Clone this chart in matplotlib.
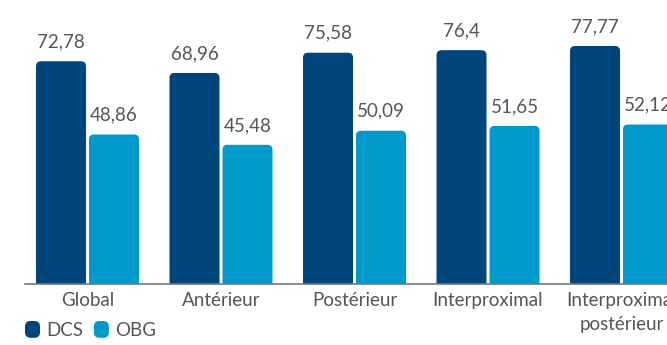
import matplotlib
matplotlib.use('Agg')
import matplotlib.pyplot as plt
from matplotlib.patches import FancyBboxPatch, Patch
from matplotlib.legend_handler import HandlerPatch

plt.rcParams['font.family'] = ['Lato', 'DejaVu Sans']

# Data
categories = ['Global', 'Antérieur', 'Postérieur', 'Interproximal', 'Interproximal\npostérieur']
dcs = [72.78, 68.96, 75.58, 76.4, 77.77]
obg = [48.86, 45.48, 50.09, 51.65, 52.12]
series_names = ['DCS', 'OBG']
colors = ['#00457c', '#0099cc']
text_color = '#555555'

W, H = 667, 345
fig = plt.figure(figsize=(W / 100, H / 100), dpi=100)
ax = fig.add_axes([25 / W, 61 / H, (W - 25) / W, 284 / H])

group_px = 133.5          # pixel distance between groups
bar_w = 50 / group_px
gap = 3 / group_px
x_left = -62.5 / group_px
x_right = x_left + (W - 25) / group_px
y_top = 92.8

ax.set_xlim(x_left, x_right)
ax.set_ylim(0, y_top)

# aspect between y and x data units per pixel, for round corners
aspect = (y_top / 284) / (1 / group_px)
radius = 5 / group_px


def rounded_bar(x, height, color):
    p = FancyBboxPatch((x, -5), bar_w, height + 5,
                       boxstyle=f"round,pad=0,rounding_size={radius}",
                       mutation_aspect=aspect, facecolor=color,
                       edgecolor='none', zorder=2)
    ax.add_patch(p)


def value_label(x, v):
    ax.annotate(str(v).replace('.', ','), (x, v), xytext=(0, 10),
                textcoords='offset points', ha='center', va='baseline',
                fontsize=13.5, color=text_color)


for i, (a, b) in enumerate(zip(dcs, obg)):
    xa = i - bar_w - gap / 2
    xb = i + gap / 2
    rounded_bar(xa, a, colors[0])
    rounded_bar(xb, b, colors[1])
    value_label(xa + bar_w / 2, a)
    value_label(xb + bar_w / 2, b)

ax.set_xticks(range(len(categories)))
ax.set_xticklabels(categories, fontsize=13.5, color=text_color, linespacing=1.45)
ax.tick_params(axis='x', length=0, pad=6)
ax.set_yticks([])
for s in ['top', 'right', 'left']:
    ax.spines[s].set_visible(False)
ax.spines['bottom'].set_color('#777777')
ax.spines['bottom'].set_linewidth(1.2)
ax.spines['bottom'].set_zorder(3)


class RoundHandler(HandlerPatch):
    def create_artists(self, legend, orig_handle, xdescent, ydescent,
                       width, height, fontsize, trans):
        p = FancyBboxPatch((-xdescent, -ydescent), width, height,
                           boxstyle="round,pad=0,rounding_size=4",
                           facecolor=orig_handle.get_facecolor(),
                           edgecolor='none', transform=trans)
        return [p]


handles = [Patch(facecolor=c, label=n) for c, n in zip(colors, series_names)]
fig.legend(handles=handles, loc='upper left',
           bbox_to_anchor=(25 / W, 1 - 321 / H), ncol=2, frameon=False,
           borderpad=0, borderaxespad=0, handlelength=0.8, handleheight=1.0,
           handletextpad=0.35, columnspacing=0.55, fontsize=13.5,
           labelcolor=text_color, handler_map={Patch: RoundHandler()})

fig.savefig('out.png', dpi=100)
